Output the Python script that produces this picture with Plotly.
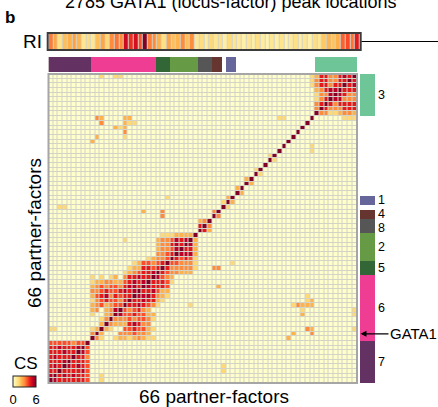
import plotly.graph_objects as go

W, H = 438, 407
FONT = "Liberation Sans, Arial, sans-serif"

# ---------------- data ----------------
N_FACTORS = 66
FACTOR_IDX = list(range(N_FACTORS))

# cluster id of each partner-factor (0 = not in a cluster), in display order
CLUSTER_OF = [7] * 9 + [6] * 14 + [5] * 3 + [2] * 6 + [8] * 3 + [4] * 2 + [0] + [1] * 2 + [0] * 17 + [3] * 9
CLUSTER_IDS = [1, 2, 3, 4, 5, 6, 7, 8]
CLUSTER_COLORS = ["#ffffff", "#66669a", "#679a44", "#6dc598", "#673530",
                  "#336636", "#ef3d94", "#643163", "#565656"]
GATA1_INDEX = 10

# RI values (one per partner-factor)
RI = [3.2, 2.5, 1.2, 2.0, 2.3, 2.6, 2.2, 1.0, 1.3, 1.0,
      2.0, 2.5, 1.5, 3.0, 3.3, 3.0, 5.0, 4.2, 4.8, 3.7,
      6.0, 3.2, 3.0, 2.3, 1.2, 2.5, 2.0, 2.2, 3.0, 2.0,
      3.0, 1.0, 1.3, 0.8, 1.5, 1.0, 1.2, 0.7, 1.4, 1.0,
      0.9, 0.6, 1.0, 0.7, 1.2, 0.8, 0.5, 1.0, 0.7, 1.1,
      0.6, 0.9, 1.2, 0.8, 1.0, 0.6, 1.3, 1.0, 1.8, 2.2,
      1.9, 2.3, 3.5, 3.8, 3.3, 4.5]

# CS value for each level code used below
CS_LEVELS = [0.0, 0.75, 1.5, 2.25, 3.0, 3.75, 4.5, 5.25, 6.0]
DIAG_LEVEL = 8

# symmetric CS matrix, lower triangle: row -> (first column, level codes)
DENSE_ROWS = {
    1: (0, "7"),
    2: (0, "66"),
    3: (0, "676"),
    4: (0, "6667"),
    5: (0, "67666"),
    6: (0, "666766"),
    7: (0, "6676667"),
    8: (0, "55555455"),
    10: (9, "4"),
    11: (9, "23"),
    12: (9, "003"),
    13: (9, "0024"),
    14: (9, "20034"),
    15: (9, "340347"),
    16: (9, "3453455"),
    17: (9, "24565546"),
    18: (9, "356746566"),
    19: (9, "4456556767"),
    20: (9, "34545546776"),
    21: (9, "233443356767"),
    22: (9, "2020230466766"),
    23: (9, "00000002345667"),
    24: (9, "000000002336656"),
    25: (9, "0000000002355456"),
    26: (9, "00000000000023445"),
    27: (9, "000000000000004456"),
    28: (9, "0000000000000034457"),
    29: (9, "00000000000000344676"),
    30: (9, "000000020000003445767"),
    31: (9, "0000000000000002223333"),
    33: (32, "6"),
    34: (32, "34"),
    57: (56, "0"),
    58: (56, "04"),
    59: (56, "046"),
    60: (56, "0246"),
    61: (56, "02447"),
    62: (56, "034677"),
    63: (56, "2466466"),
    64: (56, "24664466"),
    65: (56, "236644676"),
}
# isolated cells (row, column, level code), lower triangle
SPARSE = [
    (11, 0, 2), (11, 1, 2), (35, 24, 4), (36, 20, 3), (36, 24, 4), (36, 35, 4),
    (37, 2, 2), (37, 3, 2), (38, 37, 2), (39, 38, 3), (39, 25, 2), (41, 40, 3),
    (43, 42, 3), (45, 44, 2), (48, 47, 2),
    (51, 9, 3), (52, 10, 3), (52, 16, 2), (53, 16, 4), (54, 14, 3), (54, 15, 2),
    (54, 16, 3), (55, 11, 4), (55, 16, 3), (55, 17, 2), (55, 18, 2),
    (56, 10, 4), (56, 11, 3), (56, 16, 3), (56, 17, 3), (56, 49, 2), (56, 50, 2),
    (65, 11, 2), (65, 14, 2), (65, 15, 2),
]

CS_COLORS = ["#ffffcc", "#ffeda0", "#fed976", "#feb24c", "#fd8d3c",
             "#fc4e2a", "#e31a1c", "#bd0026", "#800026"]

# ---------------- build matrix ----------------
lvl = [[0] * N_FACTORS for _ in range(N_FACTORS)]
for i in range(N_FACTORS):
    lvl[i][i] = DIAG_LEVEL
for r, (c0, s) in DENSE_ROWS.items():
    for k, ch in enumerate(s):
        c = c0 + k
        lvl[r][c] = int(ch)
        lvl[c][r] = int(ch)
for r, c, v in SPARSE:
    lvl[r][c] = v
    lvl[c][r] = v
Z = [[CS_LEVELS[v] for v in row] for row in lvl]

cs_scale = [[i / (len(CS_COLORS) - 1), col] for i, col in enumerate(CS_COLORS)]
ncl = len(CLUSTER_COLORS)
cl_scale = []
for i, col in enumerate(CLUSTER_COLORS):
    cl_scale.append([i / ncl, col])
    cl_scale.append([(i + 1) / ncl, col])


def px_x(p):
    return p / W


def px_y(p):
    return 1 - p / H


MAIN_X = (48.5, 357.0)
MAIN_Y = (74.0, 383.0)

fig = go.Figure()
fig.add_trace(go.Heatmap(
    z=Z, x=FACTOR_IDX, y=FACTOR_IDX, colorscale=cs_scale, zmin=0, zmax=6,
    xgap=1, ygap=1, xaxis="x", yaxis="y", hoverinfo="skip",
    colorbar=dict(orientation="h", x=px_x(24.5), xanchor="center", y=px_y(375.5), yanchor="top",
                  len=23, lenmode="pixels", thickness=11, thicknessmode="pixels",
                  outlinecolor="#222222", outlinewidth=1, tickvals=[0, 6], ticktext=["0", "6"],
                  ticks="", tickfont=dict(size=13, color="#000000", family=FONT),
                  xpad=0, ypad=0, borderwidth=0),
))
fig.add_trace(go.Heatmap(
    z=[RI], x=FACTOR_IDX, y=[0], colorscale=cs_scale, zmin=0, zmax=6, xgap=1,
    showscale=False, xaxis="x2", yaxis="y2", hoverinfo="skip"))
fig.add_trace(go.Heatmap(
    z=[CLUSTER_OF], x=FACTOR_IDX, y=[0], colorscale=cl_scale, zmin=-0.5, zmax=ncl - 0.5,
    showscale=False, xaxis="x3", yaxis="y3", hoverinfo="skip"))
fig.add_trace(go.Heatmap(
    z=[[c] for c in CLUSTER_OF], x=[0], y=FACTOR_IDX, colorscale=cl_scale, zmin=-0.5, zmax=ncl - 0.5,
    showscale=False, xaxis="x4", yaxis="y4", hoverinfo="skip"))

ax_common = dict(visible=False, showgrid=False, zeroline=False, fixedrange=True)
rng = [-0.5, N_FACTORS - 0.5]
fig.update_layout(
    width=W, height=H, margin=dict(l=0, r=0, t=0, b=0),
    paper_bgcolor="#ffffff", plot_bgcolor="#d3d3c7",
    font=dict(family=FONT, color="#000000"),
    xaxis=dict(domain=[px_x(MAIN_X[0]), px_x(MAIN_X[1])], range=rng, anchor="y", **ax_common),
    yaxis=dict(domain=[px_y(MAIN_Y[1]), px_y(MAIN_Y[0])], range=rng, anchor="x", **ax_common),
    xaxis2=dict(domain=[px_x(48.7), px_x(359.7)], range=rng, anchor="y2", **ax_common),
    yaxis2=dict(domain=[px_y(49), px_y(34)], range=[-0.5, 0.5], anchor="x2", **ax_common),
    xaxis3=dict(domain=[px_x(MAIN_X[0]), px_x(MAIN_X[1])], range=rng, anchor="y3", **ax_common),
    yaxis3=dict(domain=[px_y(72), px_y(57)], range=[-0.5, 0.5], anchor="x3", **ax_common),
    xaxis4=dict(domain=[px_x(360), px_x(375)], range=[-0.5, 0.5], anchor="y4", **ax_common),
    yaxis4=dict(domain=[px_y(MAIN_Y[1]), px_y(MAIN_Y[0])], range=rng, anchor="x4", **ax_common),
    showlegend=False,
)

shapes = [
    dict(type="rect", xref="paper", yref="paper", x0=px_x(MAIN_X[0]), x1=px_x(MAIN_X[1]),
         y0=px_y(MAIN_Y[1]), y1=px_y(MAIN_Y[0]), line=dict(color="#a6a6a6", width=2)),
    dict(type="rect", xref="paper", yref="paper", x0=px_x(47.7), x1=px_x(360.7),
         y0=px_y(50), y1=px_y(33), line=dict(color="#3c3c3c", width=2)),
    dict(type="line", xref="paper", yref="paper", x0=px_x(361.5), x1=1.0,
         y0=px_y(41.5), y1=px_y(41.5), line=dict(color="#000000", width=1.2)),
]
fig.update_layout(shapes=shapes)

ann = [
    dict(text="2785 GATA1 (locus-factor) peak locations", x=px_x(231), y=px_y(1.5),
         font=dict(size=18)),
    dict(text="<b>b</b>", x=px_x(3), y=px_y(17.5), xanchor="left", font=dict(size=17)),
    dict(text="RI", x=px_x(44), y=px_y(41.5), xanchor="right", font=dict(size=19)),
    dict(text="66 partner-factors", x=px_x(34), y=px_y(233), textangle=-90, font=dict(size=19)),
    dict(text="66 partner-factors", x=px_x(214), y=px_y(396), font=dict(size=19)),
    dict(text="CS", x=px_x(12), y=px_y(363.5), xanchor="left", font=dict(size=17)),
]
for a in ann:
    a.update(xref="paper", yref="paper", showarrow=False)
    a.setdefault("xanchor", "center")
    a["yanchor"] = "middle"

LABEL_NUDGE = {8: -0.4}
for cid in CLUSTER_IDS:
    members = [i for i, c in enumerate(CLUSTER_OF) if c == cid]
    ymid = (members[0] + members[-1]) / 2 + LABEL_NUDGE.get(cid, 0)
    ann.append(dict(text=str(cid), xref="paper", yref="y", x=px_x(375.5), y=ymid,
                    xanchor="left", yanchor="middle", showarrow=False, font=dict(size=12.5)))

ann.append(dict(text="GATA1", xref="paper", yref="y", x=px_x(360.5), y=GATA1_INDEX,
                ax=53, ay=0, showarrow=True, arrowhead=2, arrowsize=1, arrowwidth=1.2,
                arrowcolor="#000000", font=dict(size=15), xanchor="center", yanchor="middle"))
fig.update_layout(annotations=ann)

fig.write_html("out.html", config={"displayModeBar": False})
